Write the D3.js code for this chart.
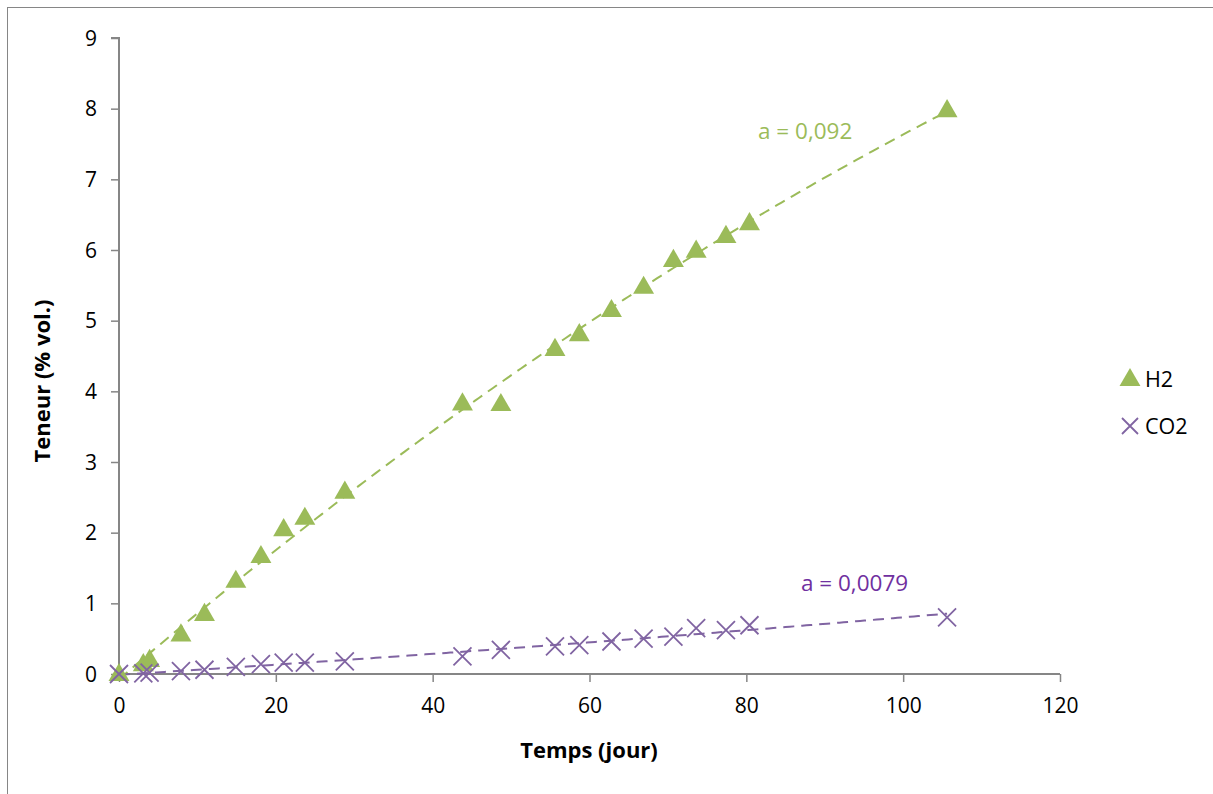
<!DOCTYPE html>
<html>
<head>
<meta charset="utf-8">
<script src="https://cdn.jsdelivr.net/npm/d3@7"></script>
<style>
  html, body { margin: 0; padding: 0; background: #fff; }
  svg { display: block; }
  text { font-family: "Open Sans", "Noto Sans", sans-serif; }
</style>
</head>
<body>
<svg id="chart" width="1213" height="794"></svg>
<script>
// ---- data ----
const days = [0, 3.1, 3.9, 7.9, 10.9, 14.9, 18.1, 21.0, 23.7, 28.8, 43.8, 48.7, 55.6, 58.7, 62.8, 66.9, 70.7, 73.6, 77.4, 80.4, 105.6];
const h2 = [0, 0.14, 0.2, 0.56, 0.85, 1.32, 1.67, 2.05, 2.21, 2.58, 3.83, 3.82, 4.6, 4.81, 5.15, 5.48, 5.86, 5.99, 6.2, 6.38, 7.98];
const co2 = [0, 0.01, 0.02, 0.04, 0.06, 0.10, 0.14, 0.16, 0.16, 0.18, 0.25, 0.34, 0.39, 0.41, 0.46, 0.50, 0.53, 0.65, 0.62, 0.69, 0.80];
const xTicks = [0, 20, 40, 60, 80, 100, 120];
const yTicks = [0, 1, 2, 3, 4, 5, 6, 7, 8, 9];
const seriesNames = ["H2", "CO2"];
const slopeLabels = ["a = 0,092", "a = 0,0079"];

const GREEN = "#9BBB59", PURPLE = "#8064A2", PURPLE_TXT = "#7030A0", AXIS = "#868686";

const svg = d3.select("#chart");
const x = d3.scaleLinear().domain([0, 120]).range([119, 1060]);
const y = d3.scaleLinear().domain([0, 9]).range([674, 38]);

// outer frame
svg.append("rect").attr("x", 7.5).attr("y", 7.5).attr("width", 1230).attr("height", 820)
  .attr("fill", "none").attr("stroke", AXIS).attr("stroke-width", 1);

// quadratic least-squares trendline (like a spreadsheet polynomial trendline)
function polyfit2(xs, ys) {
  let S = [[0,0,0],[0,0,0],[0,0,0]], T = [0,0,0];
  xs.forEach((xv, i) => {
    const p = [1, xv, xv*xv];
    for (let r = 0; r < 3; r++) { T[r] += p[r]*ys[i]; for (let c = 0; c < 3; c++) S[r][c] += p[r]*p[c]; }
  });
  const A = S.map((row, i) => row.concat([T[i]]));
  for (let i = 0; i < 3; i++) {
    let m = i; for (let k = i+1; k < 3; k++) if (Math.abs(A[k][i]) > Math.abs(A[m][i])) m = k;
    [A[i], A[m]] = [A[m], A[i]];
    for (let k = i+1; k < 3; k++) { const f = A[k][i]/A[i][i]; for (let c = i; c < 4; c++) A[k][c] -= f*A[i][c]; }
  }
  const sol = [0,0,0];
  for (let i = 2; i >= 0; i--) { let s = A[i][3]; for (let c = i+1; c < 3; c++) s -= A[i][c]*sol[c]; sol[i] = s/A[i][i]; }
  return v => sol[0] + sol[1]*v + sol[2]*v*v;
}

const xMax = d3.max(days);
const samples = d3.range(0, 201).map(i => i/200*xMax);
const line = d3.line().x(d => x(d[0])).y(d => y(d[1]));

// axes
const gy = svg.append("g").attr("transform", `translate(${x(0)},0)`)
  .call(d3.axisLeft(y).tickValues(yTicks).tickSize(8).tickPadding(14).tickFormat(d3.format("d")));
const gx = svg.append("g").attr("transform", `translate(0,${y(0)})`)
  .call(d3.axisBottom(x).tickValues(xTicks).tickSize(8).tickPadding(16).tickFormat(d3.format("d")));
[gx, gy].forEach(g => {
  g.select(".domain").attr("stroke", AXIS).attr("stroke-width", 2);
  g.selectAll(".tick line").attr("stroke", AXIS).attr("stroke-width", 1.5);
  g.selectAll(".tick text").attr("fill", "#000").style("font-size", "21px").style("font-family", "'Open Sans', sans-serif");
});
gy.selectAll(".tick text").attr("dy", "0.34em");
gy.select(".domain").attr("d", `M-8,${y(9)}H0V${y(0)}`);
gx.select(".domain").attr("d", `M${x(0)},0H${x(120)}`);

// trendlines
const fitH2 = polyfit2(days, h2);
const fitCO2 = polyfit2(days, co2);
svg.append("path").datum(samples.map(v => [v, fitH2(v)])).attr("d", line)
  .attr("fill", "none").attr("stroke", GREEN).attr("stroke-width", 2).attr("stroke-dasharray", "11,7");
svg.append("path").datum(samples.map(v => [v, fitCO2(v)])).attr("d", line)
  .attr("fill", "none").attr("stroke", PURPLE).attr("stroke-width", 2).attr("stroke-dasharray", "11,7");

// markers
const tri = d3.symbol().type(d3.symbolTriangle).size(190);
svg.append("g").selectAll("path").data(days.map((d, i) => [d, h2[i]])).join("path")
  .attr("d", tri).attr("transform", d => `translate(${x(d[0])},${y(d[1]) + 1})`).attr("fill", GREEN);

function crossPath(s) { return `M${-s},${-s}L${s},${s}M${-s},${s}L${s},${-s}`; }
svg.append("g").selectAll("path").data(days.map((d, i) => [d, co2[i]])).join("path")
  .attr("d", crossPath(9)).attr("transform", d => `translate(${x(d[0])},${y(d[1])})`)
  .attr("fill", "none").attr("stroke", PURPLE).attr("stroke-width", 1.8);

// slope labels
svg.append("text").attr("x", x(87.5)).attr("y", y(7.68)).attr("text-anchor", "middle").attr("dy", "0.35em")
  .attr("fill", GREEN).style("font-size", "22.5px").text(slopeLabels[0]);
svg.append("text").attr("x", x(93.8)).attr("y", y(1.29)).attr("text-anchor", "middle").attr("dy", "0.35em")
  .attr("fill", PURPLE_TXT).style("font-size", "22.5px").text(slopeLabels[1]);

// axis titles
svg.append("text").attr("x", 589).attr("y", 750).attr("text-anchor", "middle").attr("dy", "0.35em")
  .style("font-size", "22px").style("font-weight", "bold").text("Temps (jour)");
svg.append("text").attr("transform", "translate(42,381) rotate(-90)").attr("text-anchor", "middle").attr("dy", "0.35em")
  .style("font-size", "22px").style("font-weight", "bold").text("Teneur (% vol.)");

// legend
const lg = svg.append("g");
lg.append("path").attr("d", tri).attr("transform", "translate(1130,380)").attr("fill", GREEN);
lg.append("text").attr("x", 1145).attr("y", 379).attr("dy", "0.35em").style("font-size", "21.5px").text(seriesNames[0]);
lg.append("path").attr("d", crossPath(8)).attr("transform", "translate(1130,426)")
  .attr("fill", "none").attr("stroke", PURPLE).attr("stroke-width", 1.8);
lg.append("text").attr("x", 1145).attr("y", 426).attr("dy", "0.35em").style("font-size", "21.5px").text(seriesNames[1]);
</script>
</body>
</html>
